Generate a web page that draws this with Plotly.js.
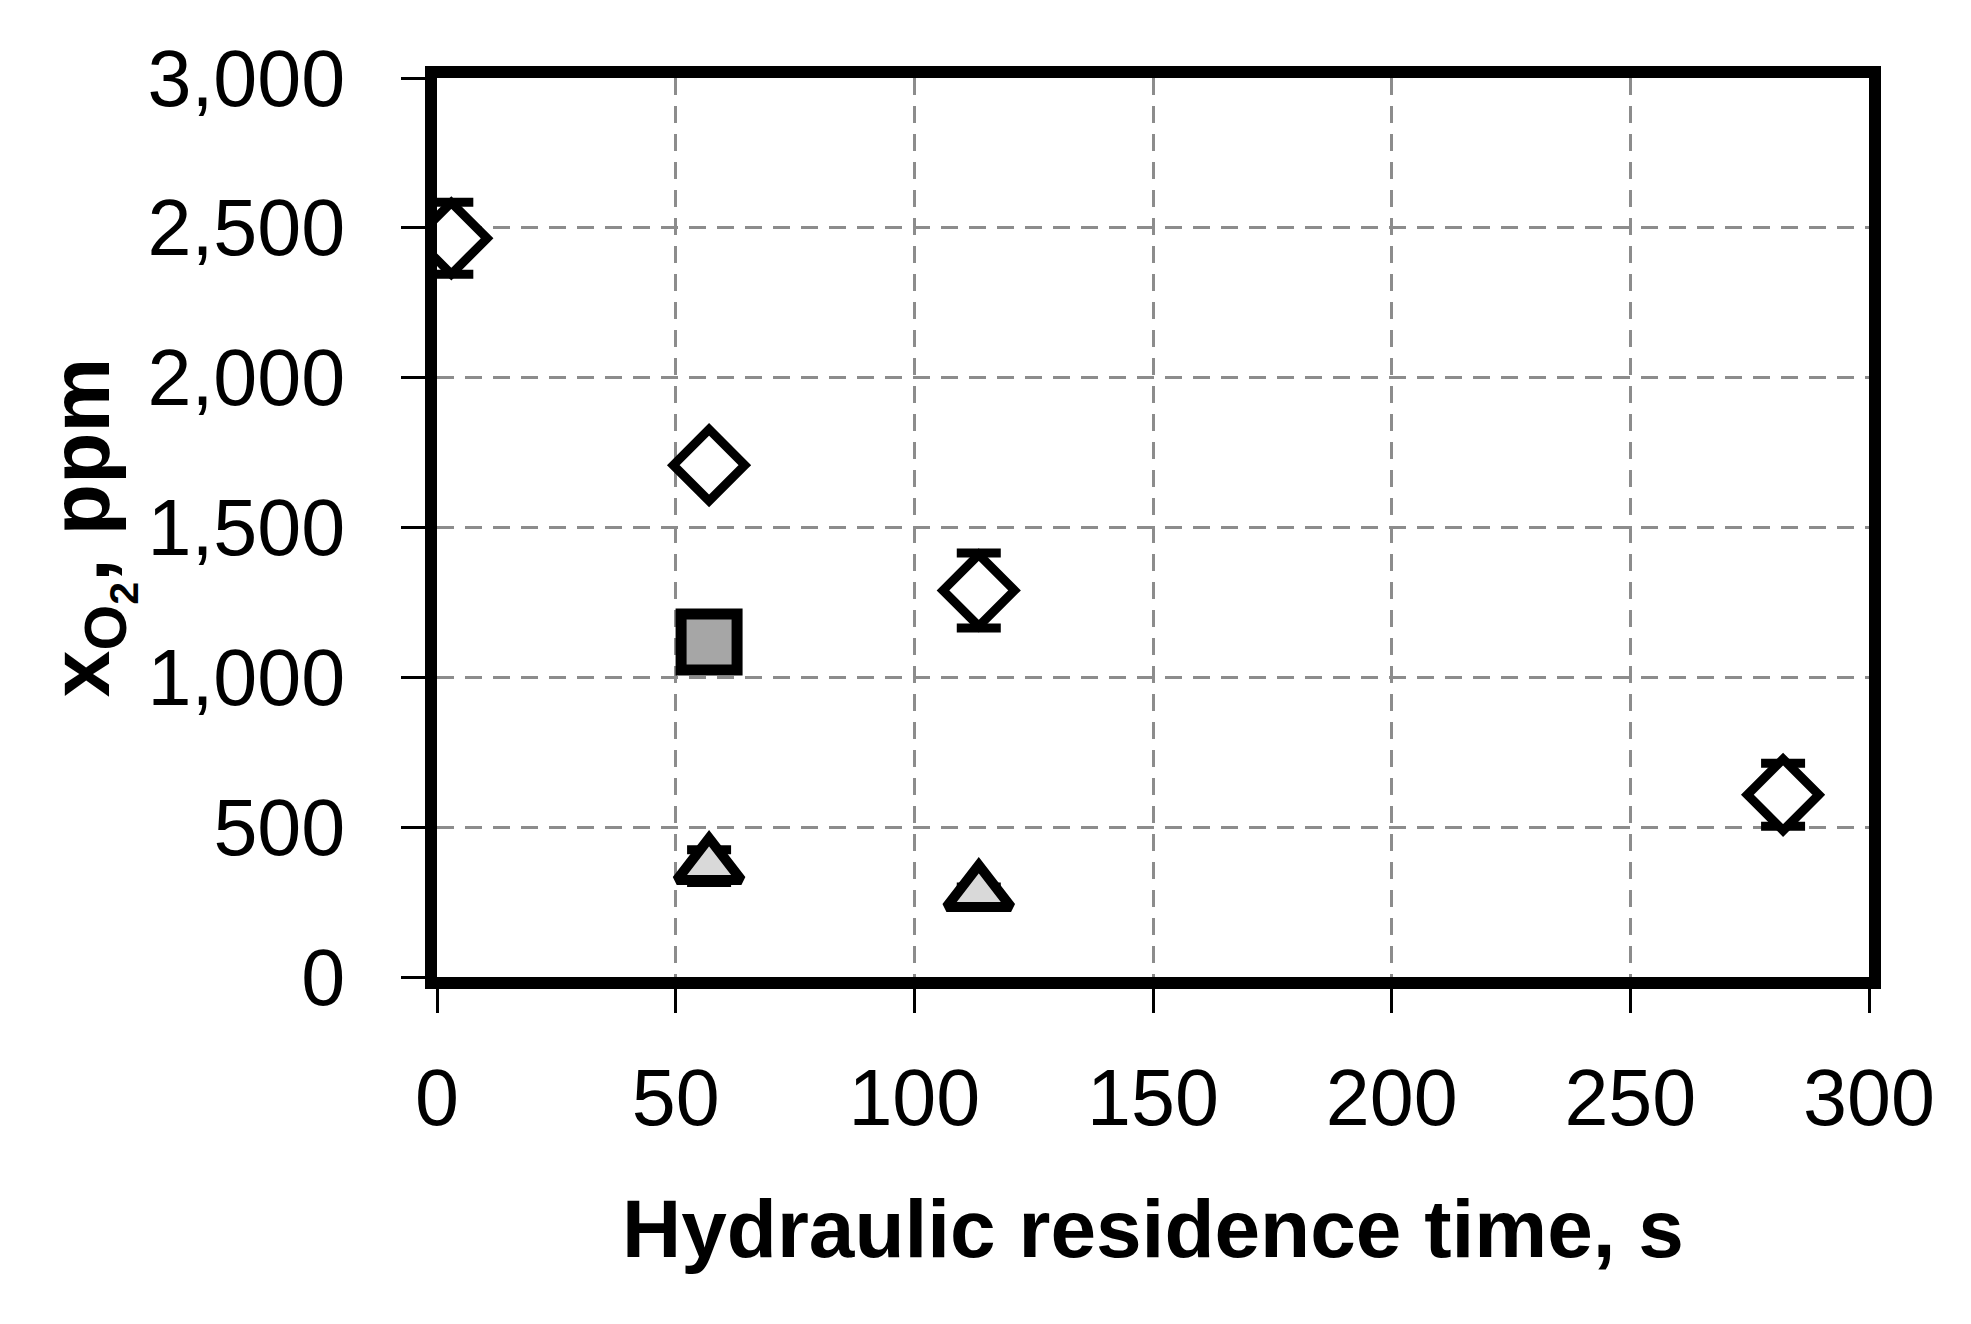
<!DOCTYPE html>
<html>
<head>
<meta charset="utf-8">
<script src="https://cdn.plot.ly/plotly-3.0.1.min.js"></script>
<style>
  html, body { margin: 0; padding: 0; background: #fff; }
  #myPlot { width: 1971px; height: 1324px; }
</style>
</head>
<body>
<div id="myPlot"></div>
<script>
// open diamonds, with error bars
var diamondX = [3, 57, 113.5, 282]
var diamondY = [2465, 1708, 1290, 608]
var diamondErr = [120, 25, 125, 105]

// grey square
var squareX = [57]
var squareY = [1118]

// light grey triangles
var triX = [57, 113.5]
var triY = [370, 280]
var triErr = [55, 20]

var xTicks = [0, 50, 100, 150, 200, 250, 300]
var yTicks = [0, 500, 1000, 1500, 2000, 2500, 3000]
var yTickText = ["0", "500", "1,000", "1,500", "2,000", "2,500", "3,000"]

var fontFam = "Liberation Sans, Arial, sans-serif"

var errStyle = function (vals) {
    return {
        type: "data",
        array: vals,
        visible: true,
        color: "#000000",
        thickness: 9,
        width: 22
    }
}

var data = [{
    x: diamondX,
    y: diamondY,
    error_y: errStyle(diamondErr),
    mode: "markers",
    type: "scatter",
    marker: {
        symbol: "diamond",
        size: 55,
        color: "#ffffff",
        line: {color: "#000000", width: 9}
    }
}, {
    x: squareX,
    y: squareY,
    mode: "markers",
    type: "scatter",
    marker: {
        symbol: "square",
        size: 56,
        color: "#a6a6a6",
        line: {color: "#000000", width: 11}
    }
}, {
    x: triX,
    y: triY,
    error_y: errStyle(triErr),
    mode: "markers",
    type: "scatter",
    marker: {
        symbol: "triangle-up",
        size: 56,
        color: "#d9d9d9",
        line: {color: "#000000", width: 10}
    }
}]

var axisCommon = {
    showline: true,
    linecolor: "#000000",
    linewidth: 12,
    mirror: true,
    ticks: "outside",
    ticklen: 24,
    tickwidth: 3,
    tickcolor: "#000000",
    showgrid: true,
    gridcolor: "#8c8c8c",
    gridwidth: 3,
    griddash: "17px,11px",
    zeroline: false,
    tickfont: {family: fontFam, size: 79, color: "#000000"},
    fixedrange: true
}

var layout = {
    width: 1971,
    height: 1324,
    paper_bgcolor: "#ffffff",
    plot_bgcolor: "#ffffff",
    showlegend: false,
    margin: {l: 437, r: 102, t: 78, b: 347},
    xaxis: Object.assign({}, axisCommon, {
        range: [0, 300],
        tickvals: xTicks,
        ticktext: xTicks.map(String),
        ticklabelstandoff: 17,
        title: {
            text: "Hydraulic residence time, s",
            font: {family: fontFam, size: 82, color: "#000000", weight: "bold"},
            standoff: 64
        }
    }),
    yaxis: Object.assign({}, axisCommon, {
        range: [0, 3000],
        tickvals: yTicks,
        ticktext: yTickText,
        ticklabelstandoff: 40,
        title: {
            text: "<b>x<sub>O<sub>2</sub></sub>, ppm</b>",
            font: {family: fontFam, size: 84, color: "#000000"},
            standoff: 10
        }
    })
}

Plotly.newPlot("myPlot", data, layout, {displayModeBar: false, staticPlot: true})
</script>
</body>
</html>
